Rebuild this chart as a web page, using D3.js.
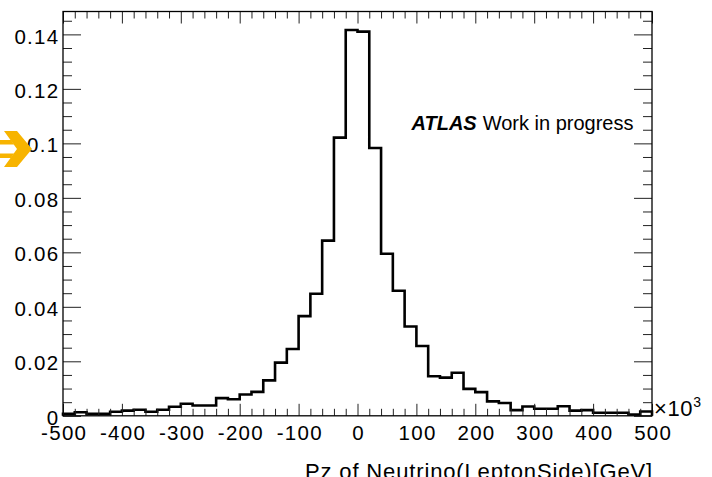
<!DOCTYPE html>
<html>
<head>
<meta charset="utf-8">
<script src="https://cdn.jsdelivr.net/npm/d3@7"></script>
<style>
  html, body { margin: 0; padding: 0; background: #fff; overflow: hidden; }
  svg { display: block; }
  text { font-family: "Liberation Sans", Arial, Helvetica, sans-serif; fill: #000; }
</style>
</head>
<body>
<svg id="chart" width="712" height="477"></svg>
<script>
// ---- data ----
const binLow = [-500,-480,-460,-440,-420,-400,-380,-360,-340,-320,
                -300,-280,-260,-240,-220,-200,-180,-160,-140,-120,
                -100,-80,-60,-40,-20,0,20,40,60,80,
                100,120,140,160,180,200,220,240,260,280,
                300,320,340,360,380,400,420,440,460,480];
const binWidth = 20;
const values = [0.0007,0.0013,0.0007,0.0007,0.0015,0.0019,0.0022,0.0015,0.0022,0.0033,
                0.0044,0.0038,0.0038,0.0065,0.0061,0.0078,0.0088,0.0130,0.0195,0.0245,
                0.0366,0.0448,0.0643,0.1021,0.1416,0.1410,0.0983,0.0595,0.0459,0.0328,
                0.0256,0.0145,0.0140,0.0158,0.0099,0.0087,0.0053,0.0047,0.0021,0.0034,
                0.0026,0.0026,0.0035,0.0019,0.0021,0.0011,0.0011,0.0011,0.0005,0.0016];
const xTicks = [-500,-400,-300,-200,-100,0,100,200,300,400,500];
const xTickLabels = ["-500","-400","-300","-200","-100","0","100","200","300","400","500"];
const yTicks = [0,0.02,0.04,0.06,0.08,0.10,0.12,0.14];
const yTickLabels = ["0","0.02","0.04","0.06","0.08","0.1","0.12","0.14"];
const xTitle = "Pz of Neutrino(LeptonSide)[GeV]";
const xDomain = [-500, 500];
const yDomain = [0, 0.1484];

// ---- layout ----
const L = 63, R = 652, T = 11.5, B = 415.8;
const svg = d3.select("#chart");
const x = d3.scaleLinear().domain(xDomain).range([L, R]);
const y = d3.scaleLinear().domain(yDomain).range([B, T]);

// minor tick values
const xMinor = d3.range(xDomain[0], xDomain[1] + 0.001, 20).filter(v => Math.abs(v % 100) > 1e-6);
const yMinor = d3.range(0, yDomain[1], 0.005).filter(v => Math.abs((v / 0.02) - Math.round(v / 0.02)) > 1e-6);

// ---- histogram ----
let d = `M${x(binLow[0])},${y(0)}`;
binLow.forEach((lo, i) => {
  d += `V${y(values[i])}H${x(lo + binWidth)}`;
});
d += `V${y(0)}`;
svg.append("path")
  .attr("d", d)
  .attr("fill", "none")
  .attr("stroke", "#000")
  .attr("stroke-width", 2.6)
  .attr("stroke-linejoin", "miter");

// ---- axes ----
function styleAxis(g) {
  g.select(".domain").remove();
  g.selectAll(".tick line").attr("stroke", "#222").attr("stroke-width", 1);
}
// bottom
svg.append("g").attr("transform", `translate(0,${B})`)
  .call(d3.axisBottom(x).tickValues(xTicks).tickSize(-12).tickPadding(9.5)
        .tickFormat((v, i) => xTickLabels[i]))
  .call(styleAxis)
  .call(g => g.selectAll("text").attr("font-size", 20.5).attr("letter-spacing", "1.3px")
        .attr("dx", "0.7px"));
svg.append("g").attr("transform", `translate(0,${B})`)
  .call(d3.axisBottom(x).tickValues(xMinor).tickSize(-7).tickFormat(""))
  .call(styleAxis);
// top
svg.append("g").attr("transform", `translate(0,${T})`)
  .call(d3.axisTop(x).tickValues(xTicks).tickSize(-12).tickFormat(""))
  .call(styleAxis);
svg.append("g").attr("transform", `translate(0,${T})`)
  .call(d3.axisTop(x).tickValues(xMinor).tickSize(-7).tickFormat(""))
  .call(styleAxis);
// left
svg.append("g").attr("transform", `translate(${L},0)`)
  .call(d3.axisLeft(y).tickValues(yTicks).tickSize(-18).tickPadding(3.5)
        .tickFormat((v, i) => yTickLabels[i]))
  .call(styleAxis)
  .call(g => g.selectAll("text").attr("font-size", 20.5).attr("letter-spacing", "1.3px")
        .attr("dy", "0.42em"));
svg.append("g").attr("transform", `translate(${L},0)`)
  .call(d3.axisLeft(y).tickValues(yMinor).tickSize(-9).tickFormat(""))
  .call(styleAxis);
// right
svg.append("g").attr("transform", `translate(${R},0)`)
  .call(d3.axisRight(y).tickValues(yTicks).tickSize(-18).tickFormat(""))
  .call(styleAxis);
svg.append("g").attr("transform", `translate(${R},0)`)
  .call(d3.axisRight(y).tickValues(yMinor).tickSize(-9).tickFormat(""))
  .call(styleAxis);

// frame
svg.append("rect")
  .attr("x", L).attr("y", T).attr("width", R - L).attr("height", B - T)
  .attr("fill", "none").attr("stroke", "#000").attr("stroke-width", 1.3);

// x10^3 exponent
const ex = svg.append("text").attr("x", 654).attr("y", 415.5).attr("font-size", 22)
  .attr("letter-spacing", "0.6px");
ex.append("tspan").text("×10");
ex.append("tspan").attr("font-size", 14).attr("dy", -9).text("3");

// x-axis title
svg.append("text")
  .attr("x", R + 1).attr("y", 479)
  .attr("text-anchor", "end")
  .attr("font-size", 22)
  .attr("letter-spacing", "0.85px")
  .text(xTitle);

// ATLAS label
const at = svg.append("text").attr("x", 411.5).attr("y", 129.5).attr("font-size", 20);
at.append("tspan").attr("font-weight", "bold").attr("font-style", "italic").text("ATLAS");
at.append("tspan").attr("dx", 6).attr("font-size", 20).text("Work in progress");

// orange arrow marker at left
const ag = svg.append("g").attr("fill", "#f7b400");
ag.append("path").attr("d", "M4,131 L17,131 L32,149 L17,167 L4,167 L17,149 Z");
ag.append("path").attr("d", "M0,140 L11,140 L14,144.5 L0,144.5 Z");
ag.append("path").attr("d", "M0,153.5 L14,153.5 L11,158 L0,158 Z");
</script>
</body>
</html>
